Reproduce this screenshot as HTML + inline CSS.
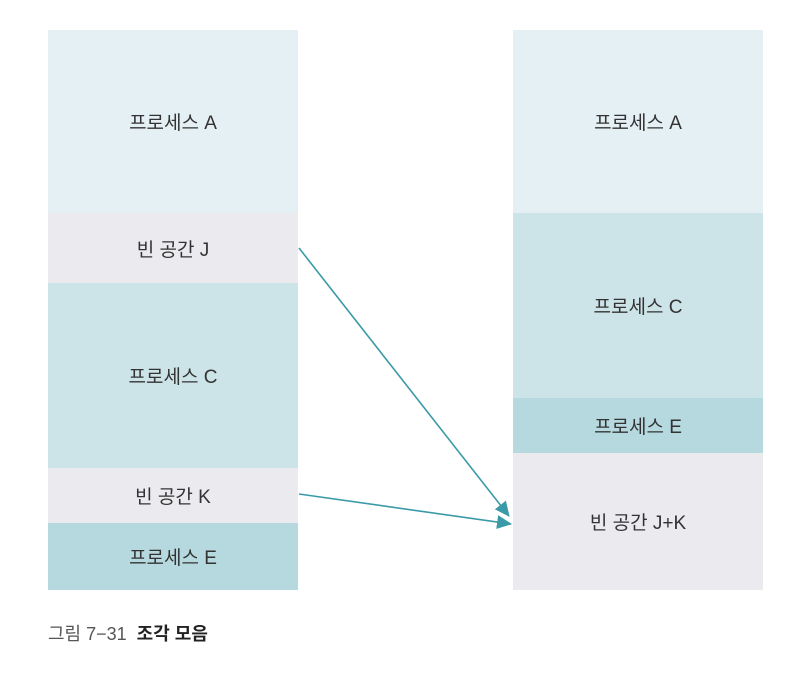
<!DOCTYPE html>
<html><head><meta charset="utf-8"><style>
body{margin:0;width:796px;height:678px;background:#fff;position:relative;font-family:"Liberation Sans","Noto Sans CJK KR",sans-serif;overflow:hidden}
.b{position:absolute;width:250px;display:flex;align-items:center;justify-content:center;font-size:19px;color:#333}
.a{background:#e4f0f3}.j{background:#ebebef}.c{background:#cce3e8}.e{background:#b6d9df}
</style></head><body>
<div class="b a" style="left:48px;top:30px;height:183px">프로세스 A</div>
<div class="b j" style="left:48px;top:213px;height:70px">빈 공간 J</div>
<div class="b c" style="left:48px;top:283px;height:185px">프로세스 C</div>
<div class="b j" style="left:48px;top:468px;height:55px">빈 공간 K</div>
<div class="b e" style="left:48px;top:523px;height:67px">프로세스 E</div>
<div class="b a" style="left:513px;top:30px;height:183px">프로세스 A</div>
<div class="b c" style="left:513px;top:213px;height:185px">프로세스 C</div>
<div class="b e" style="left:513px;top:398px;height:55px">프로세스 E</div>
<div class="b j" style="left:513px;top:453px;height:137px">빈 공간 J+K</div>
<svg width="796" height="678" style="position:absolute;left:0;top:0">
<defs><marker id="m" markerWidth="16" markerHeight="14" refX="14" refY="7" orient="auto" markerUnits="userSpaceOnUse"><path d="M0,0 L15,7 L0,14 z" fill="#3a9aa8"/></marker></defs>
<line x1="299" y1="248" x2="509" y2="516" stroke="#3a9aa8" stroke-width="1.6" marker-end="url(#m)"/>
<line x1="299" y1="494" x2="511" y2="524" stroke="#3a9aa8" stroke-width="1.6" marker-end="url(#m)"/>
</svg>
<div style="position:absolute;left:48px;top:620px;font-size:18px;color:#555">그림 7−31 &nbsp;<b style="color:#222">조각 모음</b></div>
</body></html>
